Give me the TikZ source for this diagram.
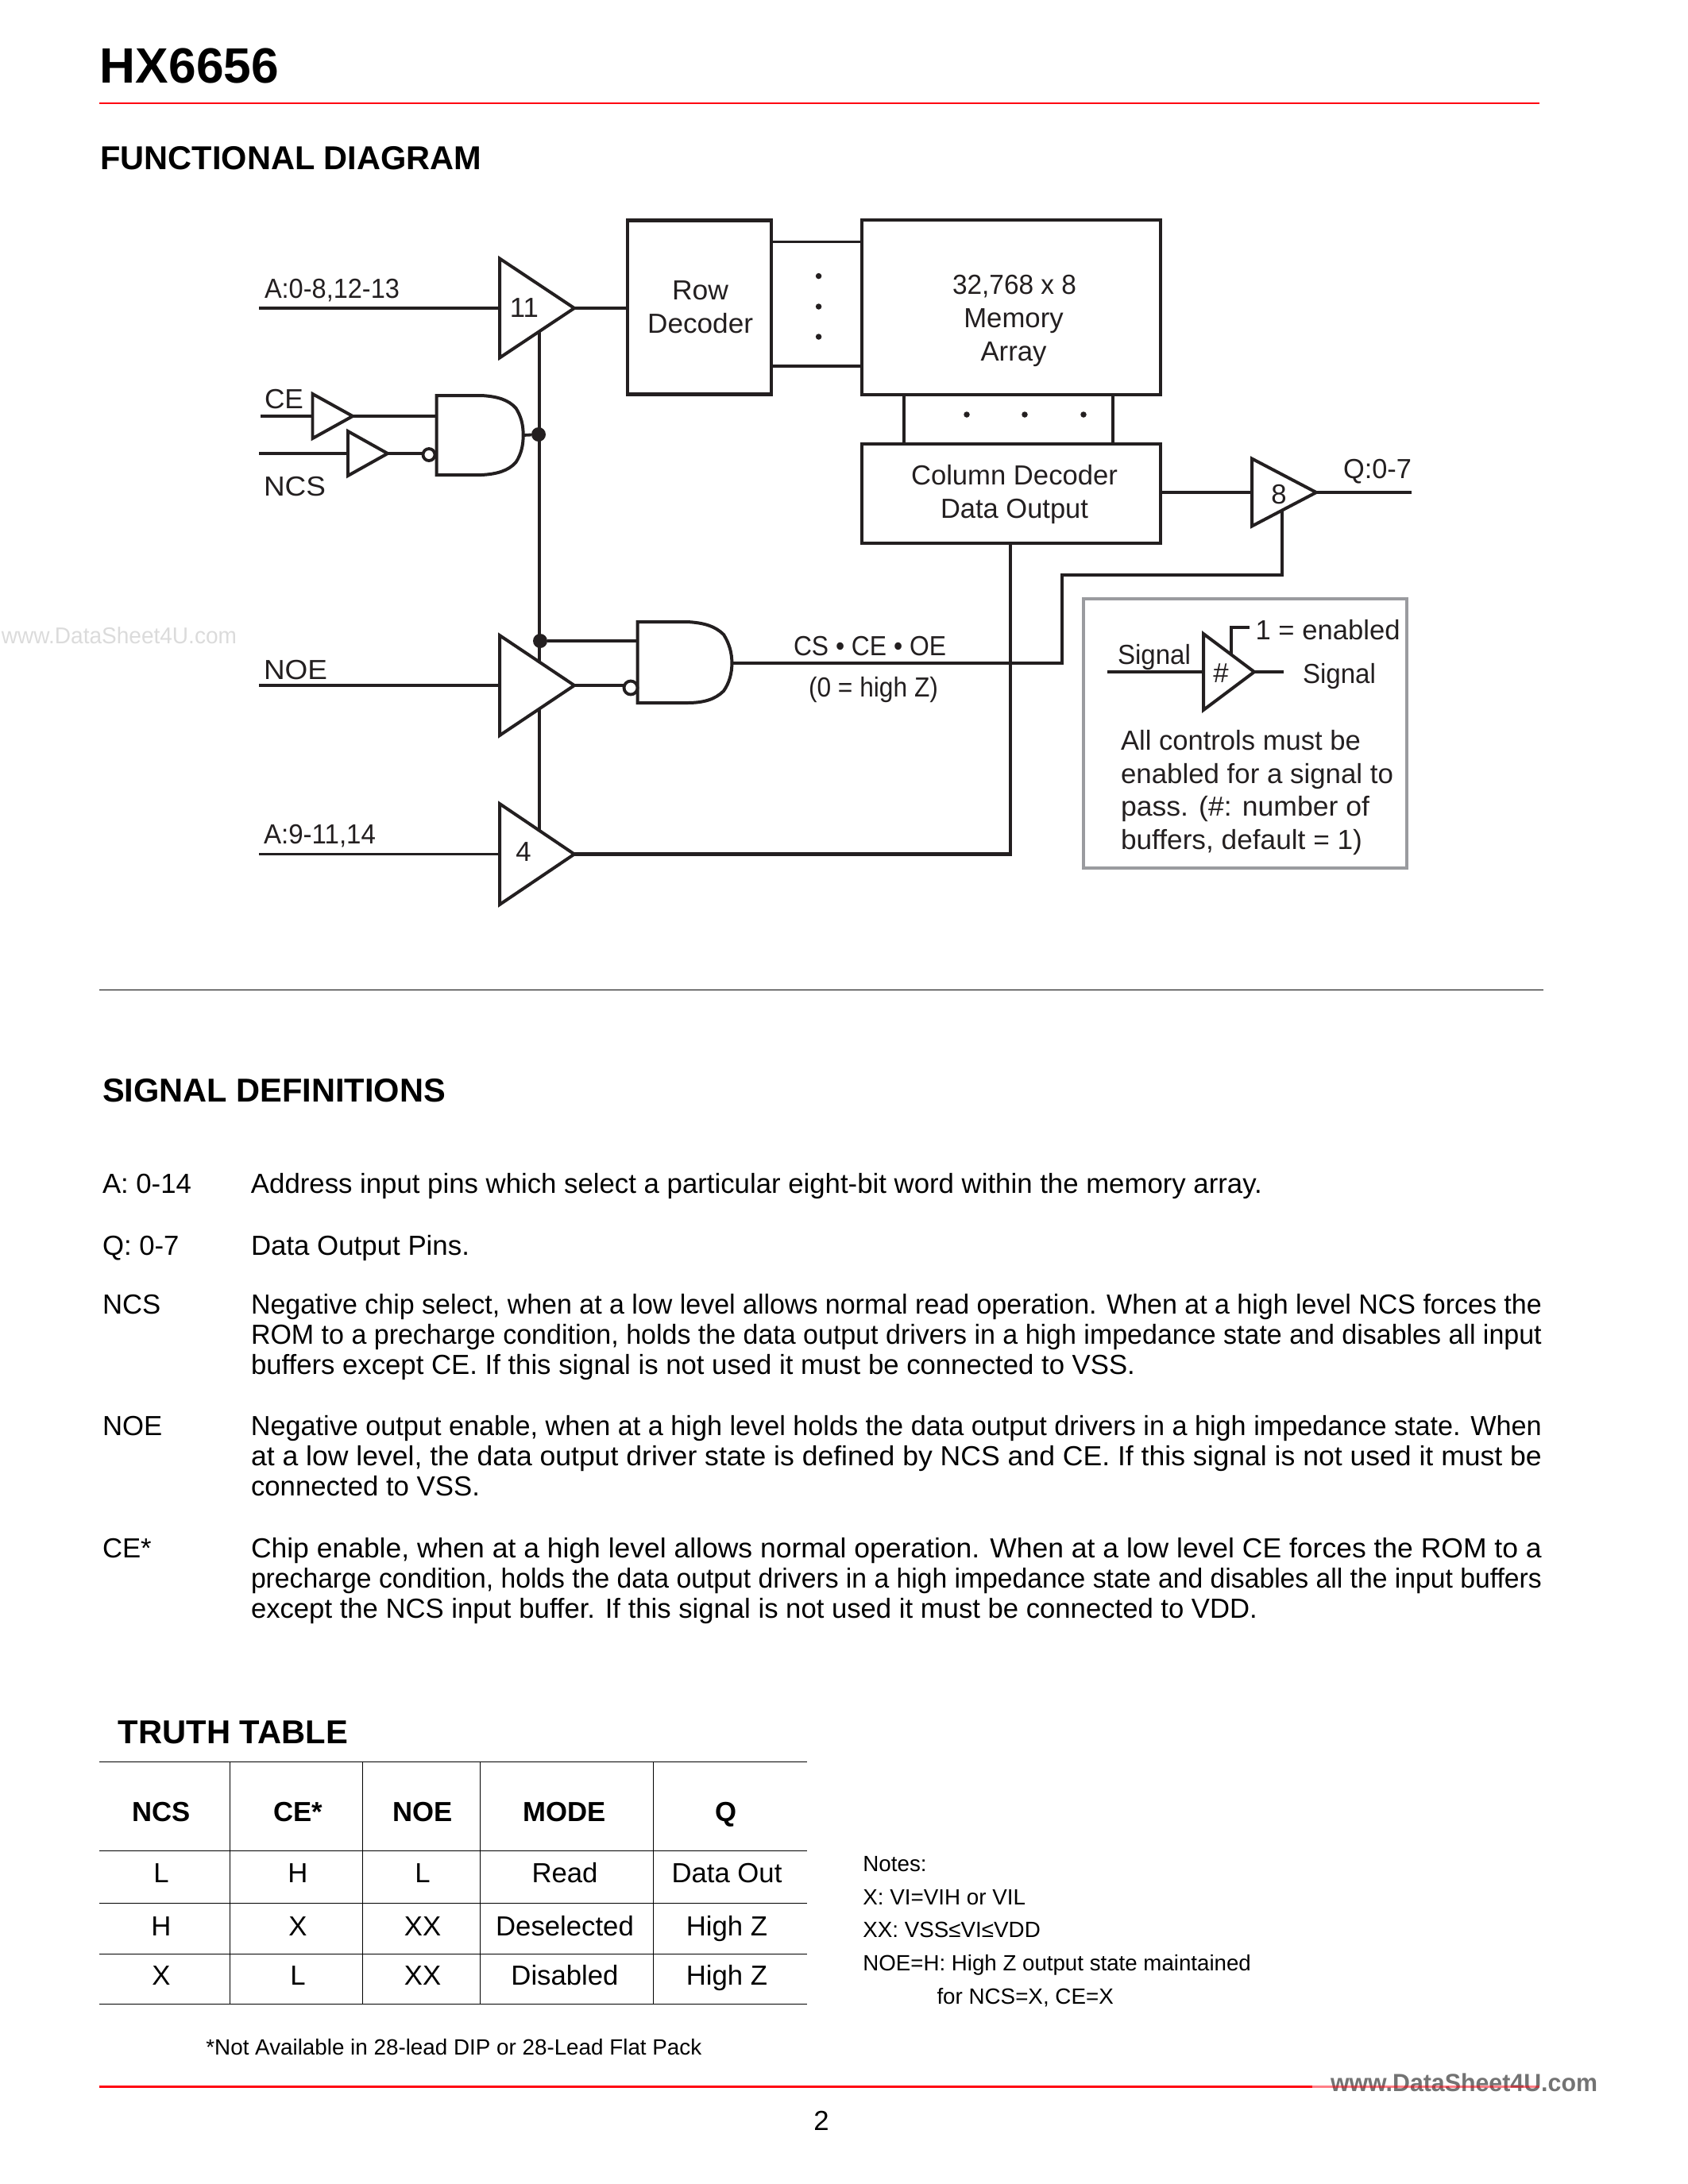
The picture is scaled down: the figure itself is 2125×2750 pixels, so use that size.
\documentclass[tikz,border=0pt]{standalone}
\usepackage{graphicx}
\usepackage{fontspec}
\setmainfont{Liberation Sans}
\usetikzlibrary{shapes.geometric}
\definecolor{ink}{HTML}{231F20}
\definecolor{redline}{HTML}{FF0010}
\definecolor{legendgray}{HTML}{9A9B9F}
\newsavebox{\fwbox}
\newcommand{\fw}[2]{\sbox{\fwbox}{#2}\pgfmathsetmacro{\fwr}{#1*0.288/\the\wd\fwbox}\scalebox{\fwr}[1]{\usebox{\fwbox}}}
\tikzset{
  x=0.288pt,y=-0.288pt,
  txt/.style={inner sep=0pt,outer sep=0pt,anchor=base west,font=\fontsize{10}{12}\selectfont},
  ctxt/.style={txt,anchor=base},
  dtxt/.style={txt,text=ink},
  cdtxt/.style={ctxt,text=ink},
  small/.style={txt,font=\fontsize{8}{10}\selectfont},
  head/.style={txt,font=\fontsize{12}{14}\selectfont\bfseries},
  thead/.style={ctxt,font=\fontsize{10}{12}\selectfont\bfseries},
  wire/.style={draw=ink,line width=1.1pt},
  block/.style={draw=ink,line width=1.2pt,inner sep=0pt,outer sep=0pt,anchor=north west,fill=white},
  buf/.style={draw=ink,fill=white,line width=1.15pt,isosceles triangle,isosceles triangle stretches,shape border rotate=0,inner sep=0pt,outer sep=0pt,anchor=apex},
  gate/.style={draw=ink,fill=white,line width=1.15pt},
  bubble/.style={circle,draw=ink,fill=white,line width=1.1pt,inner sep=0pt,outer sep=0pt,minimum size=15*0.288pt},
  jdot/.style={circle,fill=ink,inner sep=0pt,outer sep=0pt,minimum size=18*0.288pt},
  sdot/.style={circle,fill=ink,inner sep=0pt,outer sep=0pt,minimum size=7.5*0.288pt},
  rule/.style={draw=black,line width=0.4pt},
}
\begin{document}
\begin{tikzpicture}
\useasboundingbox (0,0) rectangle (2125,2750);
% page header
\node[txt,font=\fontsize{18}{20}\selectfont\bfseries] (title) at (126,104) {\fw{225}{HX6656}};
\coordinate (rl1) at (125,130); \coordinate (rr1) at (1938,130);
\draw[draw=redline,line width=0.85pt] (rl1) -- (rr1);
\node[head] (hfd) at (126.5,213) {\fw{480}{FUNCTIONAL DIAGRAM}};
% wires
\coordinate (a0in) at (326,388); \coordinate (cein) at (328,524); \coordinate (ncsin) at (326,571);
\coordinate (noein) at (326,863); \coordinate (a9in) at (326,1075.5);
\coordinate (bustop) at (679,388); \coordinate (busbot) at (679,1075.5);
\node[block,minimum width=181*0.288pt,minimum height=219*0.288pt] (row) at (790,277.5) {};
\node[block,minimum width=376*0.288pt,minimum height=220*0.288pt] (mem) at (1085,277) {};
\node[block,minimum width=376*0.288pt,minimum height=125*0.288pt] (col) at (1085,558.6) {};
\draw[wire] (bustop) -- (busbot);
\node[buf,minimum height=94*0.288pt,minimum width=125*0.288pt] (t11) at (723,388) {};
\node[buf,minimum height=94*0.288pt,minimum width=126*0.288pt] (tnoe) at (723,863) {};
\node[buf,minimum height=94*0.288pt,minimum width=127*0.288pt] (t4) at (723,1075.5) {};
\node[buf,minimum height=50.5*0.288pt,minimum width=56*0.288pt] (tce) at (444,524) {};
\node[buf,minimum height=50*0.288pt,minimum width=56*0.288pt] (tncs) at (488,571) {};
\draw[wire] (a0in) -- (t11.west);
\draw[wire] (noein) -- (tnoe.west);
\draw[wire] (a9in) -- (t4.west);
\draw[wire] (t11.apex) -- (row.west |- t11.apex);
\draw[wire] (row.north east |- 0,304.5) -- (mem.north west |- 0,304.5);
\draw[wire] (row.north east |- 0,461) -- (mem.north west |- 0,461);
\node[sdot] (rd1) at (1030.6,347.6) {};
\node[sdot] (rd2) at (1030.6,386) {};
\node[sdot] (rd3) at (1030.6,424) {};
\draw[wire,line width=1.2pt] (1137.8,497) -- (1137.8,558.6);
\draw[wire,line width=1.2pt] (1401,497) -- (1401,558.6);
\node[sdot] (cd1) at (1217,522) {};
\node[sdot] (cd2) at (1290,522) {};
\node[sdot] (cd3) at (1364,522) {};
\draw[wire] (cein) -- (tce.west);
\draw[wire] (ncsin) -- (tncs.west);
% gates
\coordinate (g1in1) at (549.5,524); \coordinate (g1in2) at (532,571); \coordinate (g1out) at (658.7,548);
\draw[wire] (tce.apex) -- (g1in1);
\draw[wire] (tncs.apex) -- (g1in2);
\draw[gate] (549.5,498) -- (606,498) .. controls (625,499) and (640,503) .. (649.5,514)
  .. controls (656,524) and (658.7,535) .. (g1out) .. controls (658.7,561) and (656,572) .. (649.5,582)
  .. controls (640,593) and (625,597) .. (606,598) -- (549.5,598) -- cycle;
\node[bubble] (b1) at (540,572.5) {};
\node[jdot] (j1) at (678,547) {};
\draw[wire] (g1out) -- (j1);
\coordinate (g2in1) at (802.5,807); \coordinate (g2in2) at (786,863); \coordinate (g2out) at (921.4,835);
\node[jdot] (j2) at (680,807) {};
\draw[wire] (j2) -- (g2in1);
\draw[wire] (tnoe.apex) -- (g2in2);
\draw[gate] (802.5,783) -- (865,783) .. controls (885,784) and (900,788) .. (911,799)
  .. controls (918,810) and (921.4,822) .. (g2out) .. controls (921.4,848) and (918,860) .. (911,870)
  .. controls (900,881) and (885,885) .. (865,885) -- (802.5,885) -- cycle;
\node[bubble,minimum size=17*0.288pt] (b2) at (794,866) {};
\coordinate (c1) at (1336.7,835); \coordinate (c2) at (1336.7,724); \coordinate (c3) at (1614.3,724); \coordinate (c4) at (1614.3,640);
\draw[wire] (g2out) -- (c1) -- (c2) -- (c3) -- (c4);
\coordinate (c5) at (1272.4,1075.5);
\draw[wire,line width=1.2pt] (t4.apex) -- (c5) -- (col.south west -| c5);
\node[buf,minimum height=81*0.288pt,minimum width=85*0.288pt] (t8b) at (1657,620) {};
\coordinate (qout) at (1777,620);
\draw[wire] (col.east |- t8b.west) -- (t8b.west);
\draw[wire] (t8b.apex) -- (qout);
% diagram labels
\node[dtxt] (l1) at (333,375) {\fw{170}{A:0-8,12-13}};
\node[cdtxt] (l2) at (660,399) {11};
\node[cdtxt] (l3) at (881.6,377.4) {\fw{71}{Row}};
\node[cdtxt] (l4) at (881.6,419) {\fw{133}{Decoder}};
\node[dtxt] (l5) at (333,514) {\fw{49}{CE}};
\node[dtxt] (l6) at (332,624) {\fw{78}{NCS}};
\node[dtxt] (l7) at (332,855.6) {\fw{80}{NOE}};
\node[dtxt] (l8) at (332,1062) {\fw{141}{A:9-11,14}};
\node[cdtxt] (l9) at (659,1084) {4};
\node[dtxt] (l10) at (999,825) {\fw{192}{CS • CE • OE}};
\node[dtxt] (l11) at (1018,877) {\fw{163}{(0 = high Z)}};
\node[dtxt] (l12) at (1199,370.6) {\fw{156}{32,768 x 8}};
\node[cdtxt] (l13) at (1276,412.7) {Memory};
\node[cdtxt] (l14) at (1276,454.8) {Array};
\node[dtxt] (l15) at (1147,610) {\fw{260}{Column Decoder}};
\node[dtxt] (l16) at (1184,652) {\fw{186}{Data Output}};
\node[cdtxt] (l17) at (1610,634) {8};
\node[dtxt] (l18) at (1691,602) {\fw{86}{Q:0-7}};
% legend
\node[draw=legendgray,line width=1pt,inner sep=0pt,outer sep=0pt,anchor=north west,minimum width=407*0.288pt,minimum height=339*0.288pt] (legend) at (1364,754) {};
\coordinate (lin) at (1394,846); \coordinate (lout) at (1616,846);
\coordinate (lc1) at (1550,825); \coordinate (lc2) at (1550,790); \coordinate (lc3) at (1573,790);
\draw[wire] (lc1) -- (lc2) -- (lc3);
\node[buf,minimum height=64*0.288pt,minimum width=96*0.288pt] (tleg) at (1579,846) {};
\draw[wire] (lin) -- (tleg.west);
\draw[wire] (tleg.apex) -- (lout);
\node[dtxt] (l19) at (1580.6,805.5) {\fw{182}{1 = enabled}};
\node[dtxt] (l20) at (1407,836.4) {\fw{92}{Signal}};
\node[dtxt] (l21) at (1640,860.6) {\fw{92}{Signal}};
\node[cdtxt] (l22) at (1537,859) {\#};
\node[dtxt] (l23) at (1411,944.7) {\fw{302}{All controls must be}};
\node[dtxt] (l24) at (1411,986) {\fw{343}{enabled for a signal to}};
\node[dtxt] (l25) at (1411,1027) {\fw{313}{pass.  (\#: number of}};
\node[dtxt] (l26) at (1411,1069) {\fw{304}{buffers, default = 1)}};
% rule
\coordinate (gl) at (125,1246.3); \coordinate (gr) at (1943,1246.3);
\draw[rule] (gl) -- (gr);
% signal definitions
\node[head] (hsd) at (129,1387) {\fw{432}{SIGNAL DEFINITIONS}};
\node[txt] (s1) at (129,1502.6) {A: 0-14};
\node[txt] (s1a) at (316,1502.6) {\fw{1273}{Address input pins which select a particular eight-bit word within the memory array.}};
\node[txt] (s2) at (129,1580) {Q: 0-7};
\node[txt] (s2a) at (316,1580) {\fw{275}{Data Output Pins.}};
\node[txt] (s3) at (129,1654) {NCS};
\node[txt] (s3a) at (316,1654) {\fw{1625}{Negative chip select, when at a low level allows normal read operation. When at a high level NCS forces the}};
\node[txt] (s3b) at (316,1692) {\fw{1625}{ROM to a precharge condition, holds the data output drivers in a high impedance state and disables all input}};
\node[txt] (s3c) at (316,1730) {\fw{1113}{buffers except CE. If this signal is not used it must be connected to VSS.}};
\node[txt] (s4) at (129,1807) {NOE};
\node[txt] (s4a) at (316,1807) {\fw{1625}{Negative output enable, when at a high level holds the data output drivers in a high impedance state. When}};
\node[txt] (s4b) at (316,1845) {\fw{1625}{at a low level, the data output driver state is defined by NCS and CE. If this signal is not used it must be}};
\node[txt] (s4c) at (316,1883) {\fw{288}{connected to VSS.}};
\node[txt] (s5) at (129,1961) {CE*};
\node[txt] (s5a) at (316,1961) {\fw{1625}{Chip enable, when at a high level allows normal operation. When at a low level CE forces the ROM to a}};
\node[txt] (s5b) at (316,1999) {\fw{1625}{precharge condition, holds the data output drivers in a high impedance state and disables all the input buffers}};
\node[txt] (s5c) at (316,2037) {\fw{1267}{except the NCS input buffer. If this signal is not used it must be connected to VDD.}};
% truth table
\node[head] (htt) at (149,2195.7) {\fw{289}{TRUTH TABLE}};
\foreach \yy in {2218.3,2330.3,2396.3,2460.3,2523.3} \draw[rule] (125,\yy) -- (1016,\yy);
\foreach \xx in {289.4,456.5,604.5,822.6} \draw[rule] (\xx,2218.3) -- (\xx,2523.3);
\node[thead] (th1) at (203,2293) {NCS};
\node[thead] (th2) at (375,2293) {CE*};
\node[thead] (th3) at (532,2293) {NOE};
\node[thead] (th4) at (711,2293) {MODE};
\node[thead] (th5) at (914,2293) {Q};
\node[ctxt] (r11) at (203,2370.7) {L};
\node[ctxt] (r12) at (375,2370.7) {H};
\node[ctxt] (r13) at (532,2370.7) {L};
\node[ctxt] (r14) at (711,2370.7) {Read};
\node[ctxt] (r15) at (915,2370.7) {Data Out};
\node[ctxt] (r21) at (203,2437.3) {H};
\node[ctxt] (r22) at (375,2437.3) {X};
\node[ctxt] (r23) at (532,2437.3) {XX};
\node[ctxt] (r24) at (711,2437.3) {Deselected};
\node[ctxt] (r25) at (915,2437.3) {High Z};
\node[ctxt] (r31) at (203,2499.3) {X};
\node[ctxt] (r32) at (375,2499.3) {L};
\node[ctxt] (r33) at (532,2499.3) {XX};
\node[ctxt] (r34) at (711,2499.3) {Disabled};
\node[ctxt] (r35) at (915,2499.3) {High Z};
\node[small] (fn) at (259.4,2587.7) {\fw{624}{*Not Available in 28-lead DIP or 28-Lead Flat Pack}};
\node[small] (n0) at (1086.4,2356.7) {Notes:};
\node[small] (n1) at (1086.4,2398.3) {X: VI=VIH or VIL};
\node[small] (n2) at (1086.4,2439) {XX: VSS≤VI≤VDD};
\node[small] (n3) at (1086.4,2481.7) {\fw{488.5}{NOE=H: High Z output state maintained}};
\node[small] (n4) at (1179.5,2523.3) {for NCS=X, CE=X};
% footer
\node[ctxt] (pg) at (1034,2682) {2};
\node[txt,font=\fontsize{9}{11}\selectfont\bfseries,text=black!55] (wm2) at (1675,2633) {\fw{336}{www.DataSheet4U.com}};
\node[txt,font=\fontsize{8.3}{10}\selectfont,text=black!14] (wm1) at (2,810) {\fw{296}{www.DataSheet4U.com}};
\coordinate (rl2) at (125,2627.3); \coordinate (rm2) at (1652,2627.3); \coordinate (rr2) at (1938,2627.3);
\draw[draw=redline,line width=0.85pt] (rl2) -- (rm2);
\draw[draw=redline,opacity=0.5,line width=0.85pt] (rm2) -- (rr2);
\end{tikzpicture}
\end{document}
